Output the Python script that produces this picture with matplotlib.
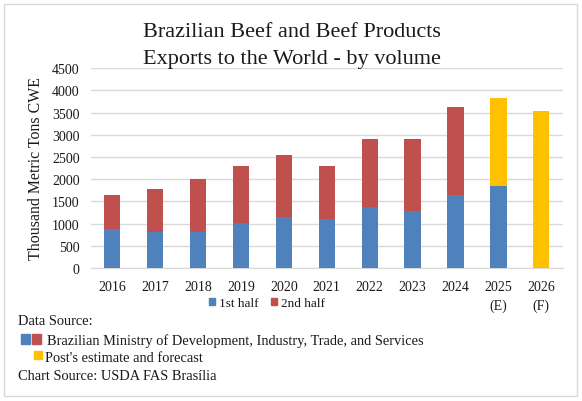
import matplotlib
matplotlib.use("Agg")
import matplotlib.pyplot as plt
from matplotlib.patches import Rectangle
import numpy as np

plt.rcParams['font.family'] = ['Liberation Serif', 'DejaVu Serif']

years = ["2016", "2017", "2018", "2019", "2020", "2021", "2022", "2023", "2024", "2025\n(E)", "2026\n(F)"]
first_half = [870, 802, 802, 1020, 1147, 1095, 1372, 1282, 1635, 1845, 0]
second_half = [779, 983, 1200, 1275, 1388, 1200, 1523, 1613, 1980, 0, 0]
estimate = [0, 0, 0, 0, 0, 0, 0, 0, 0, 1988, 3533]

BLUE = "#4F81BD"
RED = "#C0504D"
YELLOW = "#FFC000"
TXT = "#1a1a1a"

fig = plt.figure(figsize=(5.82, 4.02), dpi=100)
fig.patch.set_facecolor("white")
fig.add_artist(Rectangle((4/582, 1-397/402), 573/582, 392/402, transform=fig.transFigure,
                         fill=False, edgecolor="#D9D9D9", linewidth=1.0))

ax = fig.add_axes([0.156, 0.331, 0.811, 0.497])
x = np.arange(len(years))
w = 0.38
fh = np.array(first_half)
sh = np.array(second_half)
es = np.array(estimate)
ax.bar(x, fh, w, color=BLUE, zorder=3, label="1st half")
ax.bar(x, sh, w, bottom=fh, color=RED, zorder=3, label="2nd half")
ax.bar(x, es, w, bottom=fh + sh, color=YELLOW, zorder=3)

ax.set_xlim(-0.5, len(years) - 0.5)
ax.set_ylim(0, 4500)
ax.set_yticks(np.arange(0, 4501, 500))
ax.yaxis.grid(True, color="#D9D9D9", linewidth=1.0, zorder=0)
ax.set_axisbelow(True)
for s in ["top", "right", "left"]:
    ax.spines[s].set_visible(False)
ax.spines["bottom"].set_color("#D9D9D9")
ax.tick_params(axis="both", length=0, labelsize=10, colors=TXT)
ax.tick_params(axis="y", pad=8)
ax.tick_params(axis="x", pad=9)
ax.set_xticks(x)
ax.set_xticklabels(years, va="top", linespacing=1.45)
ax.set_ylabel("Thousand Metric Tons CWE", fontsize=11.4, color=TXT, labelpad=6)

fig.text(291.7/582, 1-46/402, "Brazilian Beef and Beef Products\nExports to the World - by volume",
         fontsize=16, color=TXT, ha="center", va="center", linespacing=1.55)

leg = fig.legend(handles=[Rectangle((0, 0), 1, 1, color=BLUE), Rectangle((0, 0), 1, 1, color=RED)],
                 labels=["1st half", "2nd half"], loc="center", bbox_to_anchor=(267/582, 1-304/402),
                 ncol=2, frameon=False, fontsize=9.5, handlelength=0.45, handleheight=0.45,
                 handletextpad=0.3, columnspacing=1.0)
for t in leg.get_texts():
    t.set_color(TXT)

def fy(py):
    return 1 - py / 402

FS = 10.4
fig.text(18/582, fy(322), "Data Source:", fontsize=FS, va="center", color=TXT)
fig.add_artist(Rectangle((21/582, fy(345)), 9/582, 10/402, transform=fig.transFigure, color=BLUE))
fig.add_artist(Rectangle((32/582, fy(345)), 9/582, 10/402, transform=fig.transFigure, color=RED))
fig.text(47/582, fy(341), "Brazilian Ministry of Development, Industry, Trade, and Services",
         fontsize=FS, va="center", color=TXT)
fig.add_artist(Rectangle((34/582, fy(360)), 8/582, 8/402, transform=fig.transFigure, color=YELLOW))
fig.text(45/582, fy(359), "Post's estimate and forecast", fontsize=FS, va="center", color=TXT)
fig.text(18/582, fy(377), "Chart Source: USDA FAS Brasília", fontsize=FS, va="center", color=TXT)

fig.savefig("out.png", dpi=100, facecolor="white")
